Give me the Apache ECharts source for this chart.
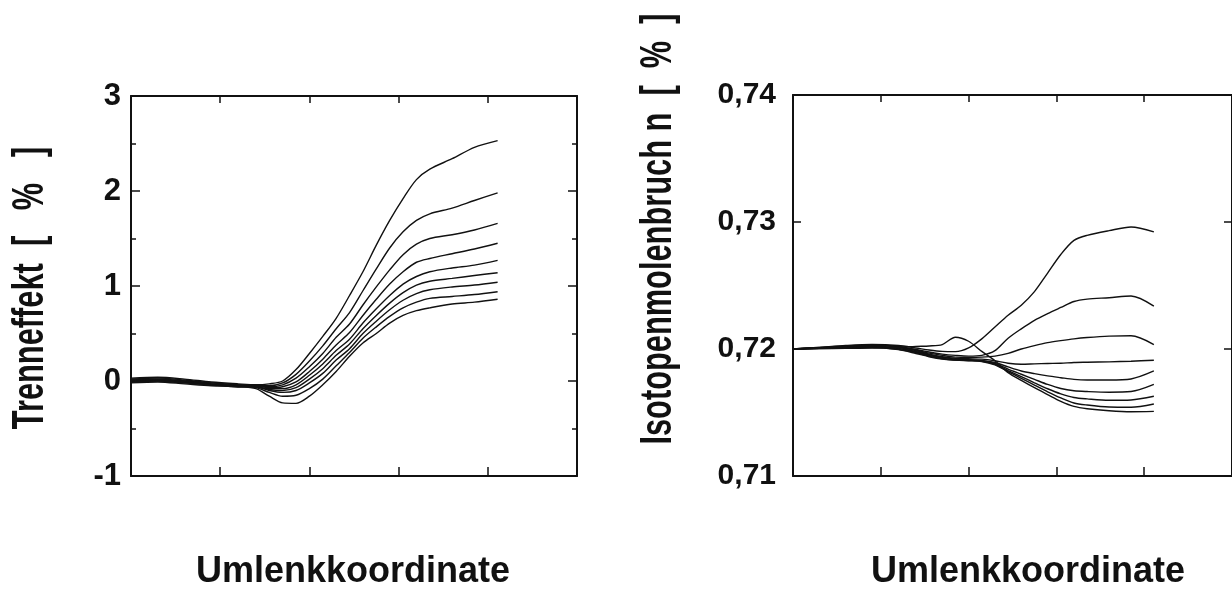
<!DOCTYPE html>
<html>
<head>
<meta charset="utf-8">
<script src="https://cdn.jsdelivr.net/npm/echarts@6/dist/echarts.min.js"></script>
<style>
html,body{margin:0;padding:0;background:#fff;}
#chart{width:1232px;height:590px;}
</style>
</head>
<body>
<div id="chart"></div>
<script>
// Shared deflection coordinate (x positions of the sampled points)
const xPos = [0, 0.3, 0.6, 0.9, 1.2, 1.4, 1.55, 1.7, 1.85, 2.0, 2.15, 2.3, 2.45, 2.6, 2.75, 2.9, 3.05, 3.2, 3.35, 3.6, 3.85, 4.11];

// Left panel: Trenneffekt [%]
const trenn1 = [0.03, 0.04, 0.02, -0.01, -0.03, -0.04, -0.03, 0.00, 0.12, 0.29, 0.47, 0.66, 0.90, 1.15, 1.43, 1.69, 1.92, 2.12, 2.23, 2.34, 2.46, 2.53];
const trenn2 = [0.02, 0.03, 0.01, -0.02, -0.04, -0.05, -0.05, -0.02, 0.07, 0.21, 0.37, 0.55, 0.72, 0.95, 1.18, 1.40, 1.57, 1.69, 1.76, 1.82, 1.90, 1.98];
const trenn3 = [0.02, 0.02, 0.00, -0.02, -0.04, -0.05, -0.06, -0.04, 0.03, 0.15, 0.29, 0.46, 0.60, 0.80, 0.99, 1.17, 1.33, 1.44, 1.50, 1.54, 1.59, 1.66];
const trenn4 = [0.01, 0.02, 0.00, -0.03, -0.05, -0.05, -0.07, -0.06, -0.01, 0.10, 0.23, 0.38, 0.51, 0.69, 0.86, 1.02, 1.15, 1.25, 1.29, 1.34, 1.39, 1.45];
const trenn5 = [0.00, 0.01, -0.01, -0.03, -0.05, -0.06, -0.08, -0.08, -0.04, 0.06, 0.18, 0.32, 0.44, 0.61, 0.76, 0.90, 1.02, 1.10, 1.15, 1.19, 1.22, 1.27];
const trenn6 = [0.00, 0.01, -0.01, -0.04, -0.05, -0.06, -0.09, -0.10, -0.07, 0.02, 0.13, 0.27, 0.39, 0.55, 0.69, 0.82, 0.93, 1.01, 1.05, 1.08, 1.11, 1.14];
const trenn7 = [-0.01, 0.00, -0.02, -0.04, -0.06, -0.06, -0.10, -0.12, -0.10, -0.02, 0.08, 0.22, 0.34, 0.50, 0.63, 0.75, 0.85, 0.92, 0.96, 0.99, 1.01, 1.04];
const trenn8 = [-0.01, 0.00, -0.02, -0.04, -0.06, -0.07, -0.12, -0.16, -0.15, -0.08, 0.02, 0.16, 0.30, 0.45, 0.57, 0.68, 0.77, 0.83, 0.87, 0.89, 0.91, 0.94];
const trenn9 = [-0.02, -0.01, -0.03, -0.05, -0.06, -0.08, -0.16, -0.23, -0.235, -0.16, -0.04, 0.10, 0.26, 0.40, 0.50, 0.61, 0.69, 0.74, 0.77, 0.81, 0.83, 0.86];

// Right panel: Isotopenmolenbruch n [%]
const iso1 = [0.72000, 0.72013, 0.72027, 0.72035, 0.72027, 0.72008, 0.71992, 0.71981, 0.71979, 0.72008, 0.72080, 0.72173, 0.72266, 0.72345, 0.72452, 0.72598, 0.72744, 0.72855, 0.72895, 0.72932, 0.72961, 0.72922];
const iso2 = [0.72000, 0.72013, 0.72024, 0.72032, 0.72021, 0.71997, 0.71976, 0.71960, 0.71950, 0.71944, 0.71950, 0.71987, 0.72085, 0.72159, 0.72226, 0.72279, 0.72327, 0.72374, 0.72393, 0.72404, 0.72417, 0.72337];
const iso3 = [0.72000, 0.72011, 0.72021, 0.72027, 0.72016, 0.71992, 0.71968, 0.71950, 0.71936, 0.71934, 0.71936, 0.71944, 0.71965, 0.72000, 0.72027, 0.72050, 0.72066, 0.72080, 0.72090, 0.72101, 0.72104, 0.72035];
const iso4 = [0.72000, 0.72008, 0.72019, 0.72021, 0.72011, 0.71987, 0.71960, 0.71939, 0.71926, 0.71923, 0.71920, 0.71907, 0.71888, 0.71880, 0.71883, 0.71886, 0.71888, 0.71894, 0.71896, 0.71899, 0.71904, 0.71912];
const iso5 = [0.72000, 0.72008, 0.72016, 0.72019, 0.72005, 0.71981, 0.71955, 0.71934, 0.71920, 0.71915, 0.71910, 0.71894, 0.71859, 0.71827, 0.71806, 0.71788, 0.71774, 0.71761, 0.71756, 0.71756, 0.71764, 0.71827];
const iso6 = [0.72000, 0.72005, 0.72013, 0.72016, 0.72003, 0.71976, 0.71950, 0.71928, 0.71915, 0.71912, 0.71907, 0.71886, 0.71841, 0.71801, 0.71761, 0.71721, 0.71689, 0.71671, 0.71665, 0.71660, 0.71665, 0.71721];
const iso7 = [0.72000, 0.72005, 0.72011, 0.72013, 0.71997, 0.71971, 0.71944, 0.71923, 0.71912, 0.71910, 0.71904, 0.71880, 0.71830, 0.71782, 0.71734, 0.71687, 0.71647, 0.71618, 0.71607, 0.71596, 0.71599, 0.71628];
const iso8 = [0.72000, 0.72003, 0.72008, 0.72011, 0.71995, 0.71965, 0.71939, 0.71920, 0.71912, 0.71907, 0.71902, 0.71875, 0.71822, 0.71769, 0.71716, 0.71663, 0.71615, 0.71575, 0.71559, 0.71543, 0.71541, 0.71567];
const iso9 = [0.72000, 0.72003, 0.72005, 0.72008, 0.72013, 0.72021, 0.72024, 0.72035, 0.72093, 0.72061, 0.71981, 0.71907, 0.71814, 0.71753, 0.71695, 0.71641, 0.71588, 0.71548, 0.71530, 0.71514, 0.71506, 0.71509];

// Tick labels
const leftTickLabels = { '-1': '-1', '0': '0', '1': '1', '2': '2', '3': '3' };
const rightTickLabels = ['0,71', '0,72', '0,73', '0,74'];

// Text
const xTitle = 'Umlenkkoordinate';
const leftYTitle = 'Trenneffekt  [   %   ]';
const rightYTitle = 'Isotopenmolenbruch n  [  %  ]';

const leftSeries = [trenn1, trenn2, trenn3, trenn4, trenn5, trenn6, trenn7, trenn8, trenn9];
const rightSeries = [iso1, iso2, iso3, iso4, iso5, iso6, iso7, iso8, iso9];

const INK = '#111';
const FONT = '"Liberation Sans", Arial, Helvetica, sans-serif';

function pairs(ys) { return xPos.map((x, i) => [x, ys[i]]); }

function xAx(gi, pos, len) {
  return {
    type: 'value', gridIndex: gi, position: pos, min: 0, max: 5, interval: 1,
    axisLine: { show: true, onZero: false, lineStyle: { color: INK, width: 2 } },
    axisTick: { show: true, inside: true, length: len, lineStyle: { color: INK, width: 1.5 } },
    axisLabel: { show: false }, splitLine: { show: false }
  };
}

const chart = echarts.init(document.getElementById('chart'), null, { renderer: 'canvas' });

const series = [];
leftSeries.forEach((s) => series.push({
  type: 'line', xAxisIndex: 0, yAxisIndex: 0, data: pairs(s), smooth: 0.3,
  showSymbol: false, symbol: 'none', lineStyle: { color: INK, width: 1.4 }, silent: true
}));
rightSeries.forEach((s) => series.push({
  type: 'line', xAxisIndex: 2, yAxisIndex: 2, data: pairs(s), smooth: 0.3,
  showSymbol: false, symbol: 'none', lineStyle: { color: INK, width: 1.4 }, silent: true
}));

const titleStyle = (text, size) => ({
  text: text, fill: INK, font: 'bold ' + size + 'px ' + FONT,
  align: 'center', verticalAlign: 'middle', textAlign: 'center', textVerticalAlign: 'middle'
});

const option = {
  animation: false,
  backgroundColor: '#fff',
  grid: [
    { left: 131, top: 96, width: 446, height: 380 },
    { left: 793, top: 95, width: 445, height: 381 }
  ],
  xAxis: [
    xAx(0, 'bottom', 9), xAx(0, 'top', 7),
    xAx(1, 'bottom', 9), xAx(1, 'top', 7)
  ],
  yAxis: [
    {
      type: 'value', gridIndex: 0, position: 'left', min: -1, max: 3, interval: 1,
      axisLine: { show: true, onZero: false, lineStyle: { color: INK, width: 2 } },
      axisTick: { show: true, inside: true, length: 9, lineStyle: { color: INK, width: 1.5 } },
      minorTick: { show: true, splitNumber: 2, length: 5, lineStyle: { color: INK, width: 1.5 } },
      axisLabel: { show: true, margin: 10, color: INK, fontSize: 31, fontWeight: 'bold', fontFamily: FONT,
        formatter: v => leftTickLabels[String(Math.round(v))] },
      splitLine: { show: false }, minorSplitLine: { show: false }
    },
    {
      type: 'value', gridIndex: 0, position: 'right', min: -1, max: 3, interval: 1,
      axisLine: { show: true, onZero: false, lineStyle: { color: INK, width: 2 } },
      axisTick: { show: true, inside: true, length: 9, lineStyle: { color: INK, width: 1.5 } },
      minorTick: { show: true, splitNumber: 2, length: 5, lineStyle: { color: INK, width: 1.5 } },
      axisLabel: { show: false }, splitLine: { show: false }, minorSplitLine: { show: false }
    },
    {
      type: 'value', gridIndex: 1, position: 'left', min: 0.71, max: 0.74, interval: 0.01,
      axisLine: { show: true, onZero: false, lineStyle: { color: INK, width: 2 } },
      axisTick: { show: true, inside: true, length: 8, lineStyle: { color: INK, width: 1.5 } },
      axisLabel: { show: true, margin: 17, color: INK, fontSize: 30, fontWeight: 'bold', fontFamily: FONT,
        formatter: v => rightTickLabels[Math.round((v - 0.71) / 0.01)] },
      splitLine: { show: false }
    },
    {
      type: 'value', gridIndex: 1, position: 'right', min: 0.71, max: 0.74, interval: 0.01,
      axisLine: { show: true, onZero: false, lineStyle: { color: INK, width: 2 } },
      axisTick: { show: true, inside: true, length: 8, lineStyle: { color: INK, width: 1.5 } },
      axisLabel: { show: false }, splitLine: { show: false }
    }
  ],
  graphic: [
    { type: 'text', x: 353, y: 572, style: titleStyle(xTitle, 36) },
    { type: 'text', x: 1028, y: 572, style: titleStyle(xTitle, 36) },
    { type: 'text', x: 31, y: 288, rotation: Math.PI / 2, scaleX: 0.7, scaleY: 1, style: titleStyle(leftYTitle, 44) },
    { type: 'text', x: 659, y: 229, rotation: Math.PI / 2, scaleX: 0.7, scaleY: 1, style: titleStyle(rightYTitle, 44) }
  ],
  series: series
};
chart.setOption(option);
</script>
</body>
</html>
